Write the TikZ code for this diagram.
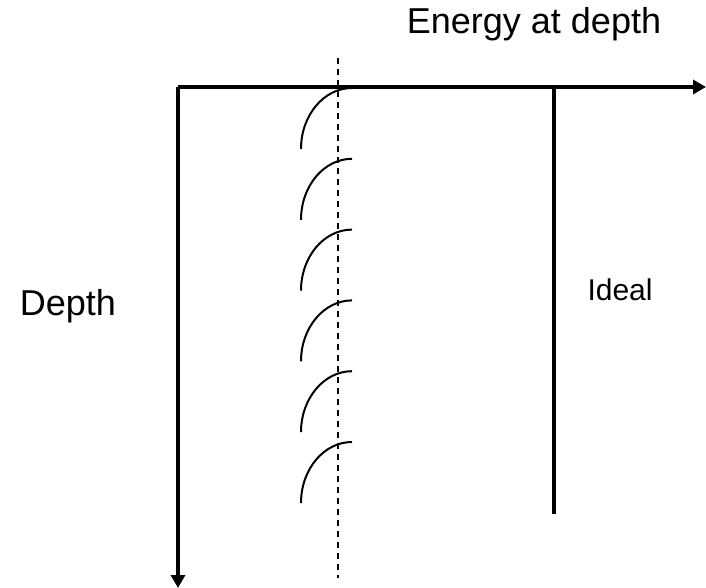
\documentclass[tikz,border=0pt]{standalone}
\usepackage{fontspec}
\setmainfont{Liberation Sans}
\usetikzlibrary{arrows.meta}
\begin{document}
\begin{tikzpicture}[x=1pt,y=-1pt,
  axis/.style={line width=4pt,-{Triangle[length=13pt,width=14pt]}},
  bigtext/.style={font=\fontsize{36}{40}\selectfont,anchor=base},
  smalltext/.style={font=\fontsize{30}{34}\selectfont,anchor=base west}]
  \useasboundingbox (0,0) rectangle (706,588);
  \coordinate (o) at (178,87); \coordinate (xend) at (706,87);
  \coordinate (yend) at (178,588);
  \draw[axis] (o) -- (xend); \draw[axis] (o) -- (yend);
  \coordinate (dtop) at (338,58); \coordinate (dbot) at (338,578);
  \draw[line width=1.5pt,dash pattern=on 6pt off 5pt] (dtop) -- (dbot);
  \foreach \i in {0,...,5}
    \draw[line width=2pt] (352,88+70.8*\i) arc[start angle=270,end angle=180,x radius=51,y radius=61];
  \coordinate (itop) at (554,87); \coordinate (ibot) at (554,514);
  \draw[line width=4pt] (itop) -- (ibot);
  \node[bigtext] (energy) at (534,34) {Energy at depth};
  \node[bigtext] (depth) at (68,315) {Depth};
  \node[smalltext] (ideal) at (584,300) {Ideal};
\end{tikzpicture}
\end{document}
